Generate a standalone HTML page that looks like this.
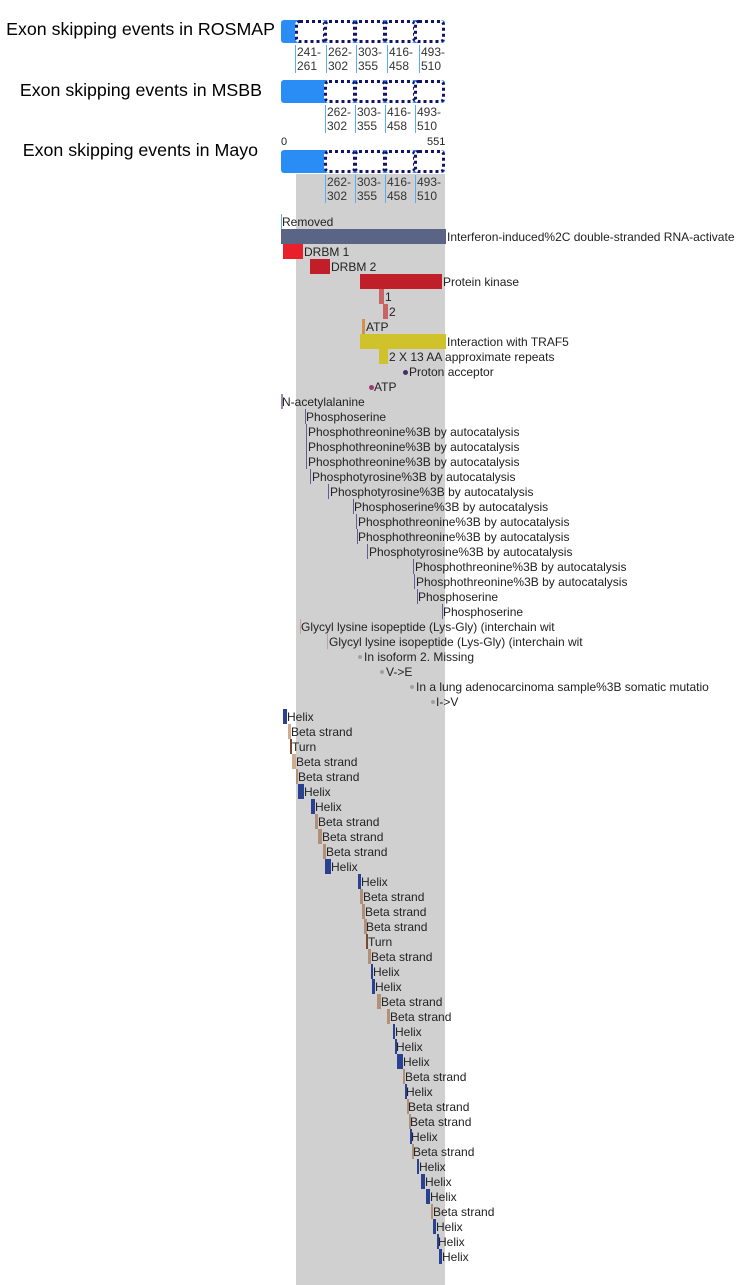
<!DOCTYPE html>
<html><head><style>
body{margin:0;width:743px;height:1285px;position:relative;background:#fff;font-family:"Liberation Sans",Arial,sans-serif;overflow:hidden}
.a{position:absolute}
.t{position:absolute;font-size:12px;color:#222;line-height:15px;white-space:nowrap;margin-top:1px}
.title{position:absolute;font-size:17.8px;color:#000;right:468px;white-space:nowrap}
.d{position:absolute;box-sizing:border-box;border:3px dotted #12126a;border-radius:5px;background:#fff;height:23px}
.lb{position:absolute;font-size:12px;line-height:14px;color:#333;border-left:1px solid #5aaef0;padding-left:1px}
.dot{position:absolute;width:5px;height:5px;border-radius:50%;margin-top:1px}
</style></head><body>
<div class="a" style="left:296px;top:174px;width:149px;height:1111px;background:#d0d0d0"></div>

<div class="title" style="top:19px">Exon skipping events in ROSMAP</div>
<div class="title" style="top:80px;right:481px">Exon skipping events in MSBB</div>
<div class="title" style="top:140px;right:485px">Exon skipping events in Mayo</div>

<!-- ROSMAP -->
<div class="a" style="left:281px;top:20px;width:164px;height:23px;background:#2a8cf5;border-radius:3px"></div>
<div class="d" style="left:295px;top:20px;width:31px"></div>
<div class="d" style="left:324px;top:20px;width:32px"></div>
<div class="d" style="left:354px;top:20px;width:32px"></div>
<div class="d" style="left:384px;top:20px;width:32px"></div>
<div class="d" style="left:414px;top:20px;width:31px"></div>
<div class="lb" style="left:295px;top:45px">241-<br>261</div>
<div class="lb" style="left:326px;top:45px">262-<br>302</div>
<div class="lb" style="left:356px;top:45px">303-<br>355</div>
<div class="lb" style="left:387px;top:45px">416-<br>458</div>
<div class="lb" style="left:419px;top:45px">493-<br>510</div>

<!-- MSBB -->
<div class="a" style="left:281px;top:80px;width:164px;height:23px;background:#2a8cf5;border-radius:3px"></div>
<div class="d" style="left:324px;top:80px;width:32px"></div>
<div class="d" style="left:354px;top:80px;width:32px"></div>
<div class="d" style="left:384px;top:80px;width:32px"></div>
<div class="d" style="left:414px;top:80px;width:31px"></div>
<div class="lb" style="left:325px;top:105px">262-<br>302</div>
<div class="lb" style="left:355px;top:105px">303-<br>355</div>
<div class="lb" style="left:385px;top:105px">416-<br>458</div>
<div class="lb" style="left:415px;top:105px">493-<br>510</div>

<!-- Mayo -->
<div class="t" style="left:281px;top:134px;font-size:11px">0</div>
<div class="t" style="left:427px;top:134px;font-size:11px">551</div>
<div class="a" style="left:281px;top:150px;width:164px;height:23px;background:#2a8cf5;border-radius:3px"></div>
<div class="d" style="left:324px;top:150px;width:32px"></div>
<div class="d" style="left:354px;top:150px;width:32px"></div>
<div class="d" style="left:384px;top:150px;width:32px"></div>
<div class="d" style="left:414px;top:150px;width:31px"></div>
<div class="lb" style="left:325px;top:175px">262-<br>302</div>
<div class="lb" style="left:355px;top:175px">303-<br>355</div>
<div class="lb" style="left:385px;top:175px">416-<br>458</div>
<div class="lb" style="left:415px;top:175px">493-<br>510</div>

<!-- domains -->
<div class="a" style="left:281px;top:214px;width:1px;height:15px;background:#5ab0e0"></div><div class="t" style="left:282px;top:214px">Removed</div>
<div class="a" style="left:281px;top:229px;width:165px;height:15px;background:#5a6585"></div><div class="t" style="left:447px;top:229px">Interferon-induced%2C double-stranded RNA-activate</div>
<div class="a" style="left:283px;top:244px;width:20px;height:15px;background:#e8202a"></div><div class="t" style="left:304px;top:244px">DRBM 1</div>
<div class="a" style="left:310px;top:259px;width:20px;height:15px;background:#c01e28"></div><div class="t" style="left:331px;top:259px">DRBM 2</div>
<div class="a" style="left:360px;top:274px;width:82px;height:15px;background:#c01e28"></div><div class="t" style="left:443px;top:274px">Protein kinase</div>
<div class="a" style="left:379px;top:289px;width:5px;height:15px;background:#c86464"></div><div class="t" style="left:385px;top:289px">1</div>
<div class="a" style="left:383px;top:304px;width:5px;height:15px;background:#c86464"></div><div class="t" style="left:389px;top:304px">2</div>
<div class="a" style="left:362px;top:319px;width:3px;height:15px;background:#d4914a"></div><div class="t" style="left:366px;top:319px">ATP</div>
<div class="a" style="left:360px;top:334px;width:86px;height:15px;background:#cfc22a"></div><div class="t" style="left:447px;top:334px">Interaction with TRAF5</div>
<div class="a" style="left:379px;top:349px;width:9px;height:15px;background:#cfc22a"></div><div class="t" style="left:389px;top:349px">2 X 13 AA approximate repeats</div>
<div class="dot" style="left:403px;top:369px;background:#4a2a6a"></div><div class="t" style="left:409px;top:364px">Proton acceptor</div>
<div class="dot" style="left:369px;top:384px;background:#9a3a7a"></div><div class="t" style="left:374px;top:379px">ATP</div>

<!-- PTMs -->
<div class="a" style="left:281px;top:394px;width:2px;height:15px;background:#9a8ab0"></div><div class="t" style="left:282px;top:394px">N-acetylalanine</div>
<div class="a" style="left:305px;top:409px;width:1px;height:15px;background:#6a5a90"></div><div class="t" style="left:306px;top:409px">Phosphoserine</div>
<div class="a" style="left:306px;top:424px;width:1px;height:15px;background:#6a5a90"></div><div class="t" style="left:308px;top:424px">Phosphothreonine%3B by autocatalysis</div>
<div class="a" style="left:306px;top:439px;width:1px;height:15px;background:#6a5a90"></div><div class="t" style="left:308px;top:439px">Phosphothreonine%3B by autocatalysis</div>
<div class="a" style="left:306px;top:454px;width:1px;height:15px;background:#6a5a90"></div><div class="t" style="left:308px;top:454px">Phosphothreonine%3B by autocatalysis</div>
<div class="a" style="left:310px;top:469px;width:1px;height:15px;background:#6a5a90"></div><div class="t" style="left:312px;top:469px">Phosphotyrosine%3B by autocatalysis</div>
<div class="a" style="left:328px;top:484px;width:1px;height:15px;background:#6a5a90"></div><div class="t" style="left:330px;top:484px">Phosphotyrosine%3B by autocatalysis</div>
<div class="a" style="left:353px;top:499px;width:1px;height:15px;background:#6a5a90"></div><div class="t" style="left:354px;top:499px">Phosphoserine%3B by autocatalysis</div>
<div class="a" style="left:356px;top:514px;width:1px;height:15px;background:#6a5a90"></div><div class="t" style="left:358px;top:514px">Phosphothreonine%3B by autocatalysis</div>
<div class="a" style="left:357px;top:529px;width:1px;height:15px;background:#6a5a90"></div><div class="t" style="left:358px;top:529px">Phosphothreonine%3B by autocatalysis</div>
<div class="a" style="left:367px;top:544px;width:1px;height:15px;background:#6a5a90"></div><div class="t" style="left:369px;top:544px">Phosphotyrosine%3B by autocatalysis</div>
<div class="a" style="left:413px;top:559px;width:1px;height:15px;background:#6a5a90"></div><div class="t" style="left:415px;top:559px">Phosphothreonine%3B by autocatalysis</div>
<div class="a" style="left:414px;top:574px;width:1px;height:15px;background:#6a5a90"></div><div class="t" style="left:416px;top:574px">Phosphothreonine%3B by autocatalysis</div>
<div class="a" style="left:417px;top:589px;width:1px;height:15px;background:#6a5a90"></div><div class="t" style="left:418px;top:589px">Phosphoserine</div>
<div class="a" style="left:442px;top:604px;width:1px;height:15px;background:#6a5a90"></div><div class="t" style="left:443px;top:604px">Phosphoserine</div>
<div class="a" style="left:300px;top:619px;width:1px;height:15px;background:#c0a0a0"></div><div class="t" style="left:301px;top:619px">Glycyl lysine isopeptide (Lys-Gly) (interchain wit</div>
<div class="a" style="left:327px;top:634px;width:1px;height:15px;background:#c0a0a0"></div><div class="t" style="left:329px;top:634px">Glycyl lysine isopeptide (Lys-Gly) (interchain wit</div>
<div class="dot" style="left:358px;top:654px;background:#a0a0a0;width:4px;height:4px"></div><div class="t" style="left:364px;top:649px">In isoform 2. Missing</div>
<div class="dot" style="left:380px;top:669px;background:#a0a0a0;width:4px;height:4px"></div><div class="t" style="left:386px;top:664px">V-&gt;E</div>
<div class="dot" style="left:410px;top:684px;background:#a0a0a0;width:4px;height:4px"></div><div class="t" style="left:416px;top:679px">In a lung adenocarcinoma sample%3B somatic mutatio</div>
<div class="dot" style="left:431px;top:699px;background:#a0a0a0;width:4px;height:4px"></div><div class="t" style="left:436px;top:694px">I-&gt;V</div>

<!-- secondary structure -->
<div class="a" style="left:283px;top:709px;width:4px;height:15px;background:#2a4090"></div><div class="t" style="left:287px;top:709px">Helix</div>
<div class="a" style="left:288px;top:724px;width:3px;height:15px;background:#d0ac90"></div><div class="t" style="left:291px;top:724px">Beta strand</div>
<div class="a" style="left:290px;top:739px;width:2px;height:15px;background:#7a4a30"></div><div class="t" style="left:292px;top:739px">Turn</div>
<div class="a" style="left:292px;top:754px;width:4px;height:15px;background:#d0ac90"></div><div class="t" style="left:296px;top:754px">Beta strand</div>
<div class="a" style="left:296px;top:769px;width:2px;height:15px;background:#b09078"></div><div class="t" style="left:298px;top:769px">Beta strand</div>
<div class="a" style="left:298px;top:784px;width:6px;height:15px;background:#2a4090"></div><div class="t" style="left:304px;top:784px">Helix</div>
<div class="a" style="left:311px;top:799px;width:4px;height:15px;background:#2a4090"></div><div class="t" style="left:315px;top:799px">Helix</div>
<div class="a" style="left:315px;top:814px;width:3px;height:15px;background:#b09078"></div><div class="t" style="left:318px;top:814px">Beta strand</div>
<div class="a" style="left:318px;top:829px;width:4px;height:15px;background:#b09078"></div><div class="t" style="left:322px;top:829px">Beta strand</div>
<div class="a" style="left:323px;top:844px;width:3px;height:15px;background:#b09078"></div><div class="t" style="left:326px;top:844px">Beta strand</div>
<div class="a" style="left:325px;top:859px;width:6px;height:15px;background:#2a4090"></div><div class="t" style="left:331px;top:859px">Helix</div>
<div class="a" style="left:358px;top:874px;width:3px;height:15px;background:#2a4090"></div><div class="t" style="left:361px;top:874px">Helix</div>
<div class="a" style="left:360px;top:889px;width:3px;height:15px;background:#b09078"></div><div class="t" style="left:363px;top:889px">Beta strand</div>
<div class="a" style="left:362px;top:904px;width:3px;height:15px;background:#b09078"></div><div class="t" style="left:365px;top:904px">Beta strand</div>
<div class="a" style="left:364px;top:919px;width:3px;height:15px;background:#b09078"></div><div class="t" style="left:366px;top:919px">Beta strand</div>
<div class="a" style="left:366px;top:934px;width:2px;height:15px;background:#7a4a30"></div><div class="t" style="left:368px;top:934px">Turn</div>
<div class="a" style="left:368px;top:949px;width:3px;height:15px;background:#b09078"></div><div class="t" style="left:371px;top:949px">Beta strand</div>
<div class="a" style="left:371px;top:964px;width:2px;height:15px;background:#2a4090"></div><div class="t" style="left:373px;top:964px">Helix</div>
<div class="a" style="left:372px;top:979px;width:3px;height:15px;background:#2a4090"></div><div class="t" style="left:375px;top:979px">Helix</div>
<div class="a" style="left:377px;top:994px;width:4px;height:15px;background:#b09078"></div><div class="t" style="left:381px;top:994px">Beta strand</div>
<div class="a" style="left:387px;top:1009px;width:3px;height:15px;background:#b09078"></div><div class="t" style="left:390px;top:1009px">Beta strand</div>
<div class="a" style="left:393px;top:1024px;width:2px;height:15px;background:#2a4090"></div><div class="t" style="left:395px;top:1024px">Helix</div>
<div class="a" style="left:395px;top:1039px;width:2px;height:15px;background:#2a4090"></div><div class="t" style="left:396px;top:1039px">Helix</div>
<div class="a" style="left:397px;top:1054px;width:6px;height:15px;background:#2a4090"></div><div class="t" style="left:403px;top:1054px">Helix</div>
<div class="a" style="left:403px;top:1069px;width:2px;height:15px;background:#b09078"></div><div class="t" style="left:405px;top:1069px">Beta strand</div>
<div class="a" style="left:405px;top:1084px;width:2px;height:15px;background:#2a4090"></div><div class="t" style="left:406px;top:1084px">Helix</div>
<div class="a" style="left:407px;top:1099px;width:2px;height:15px;background:#b09078"></div><div class="t" style="left:408px;top:1099px">Beta strand</div>
<div class="a" style="left:409px;top:1114px;width:2px;height:15px;background:#b09078"></div><div class="t" style="left:410px;top:1114px">Beta strand</div>
<div class="a" style="left:410px;top:1129px;width:2px;height:15px;background:#2a4090"></div><div class="t" style="left:411px;top:1129px">Helix</div>
<div class="a" style="left:412px;top:1144px;width:2px;height:15px;background:#b09078"></div><div class="t" style="left:413px;top:1144px">Beta strand</div>
<div class="a" style="left:417px;top:1159px;width:2px;height:15px;background:#2a4090"></div><div class="t" style="left:419px;top:1159px">Helix</div>
<div class="a" style="left:421px;top:1174px;width:4px;height:15px;background:#2a4090"></div><div class="t" style="left:425px;top:1174px">Helix</div>
<div class="a" style="left:426px;top:1189px;width:4px;height:15px;background:#2a4090"></div><div class="t" style="left:430px;top:1189px">Helix</div>
<div class="a" style="left:431px;top:1204px;width:2px;height:15px;background:#b09078"></div><div class="t" style="left:433px;top:1204px">Beta strand</div>
<div class="a" style="left:433px;top:1219px;width:3px;height:15px;background:#2a4090"></div><div class="t" style="left:436px;top:1219px">Helix</div>
<div class="a" style="left:437px;top:1234px;width:2px;height:15px;background:#2a4090"></div><div class="t" style="left:438px;top:1234px">Helix</div>
<div class="a" style="left:439px;top:1249px;width:3px;height:15px;background:#2a4090"></div><div class="t" style="left:442px;top:1249px">Helix</div>
</body></html>
